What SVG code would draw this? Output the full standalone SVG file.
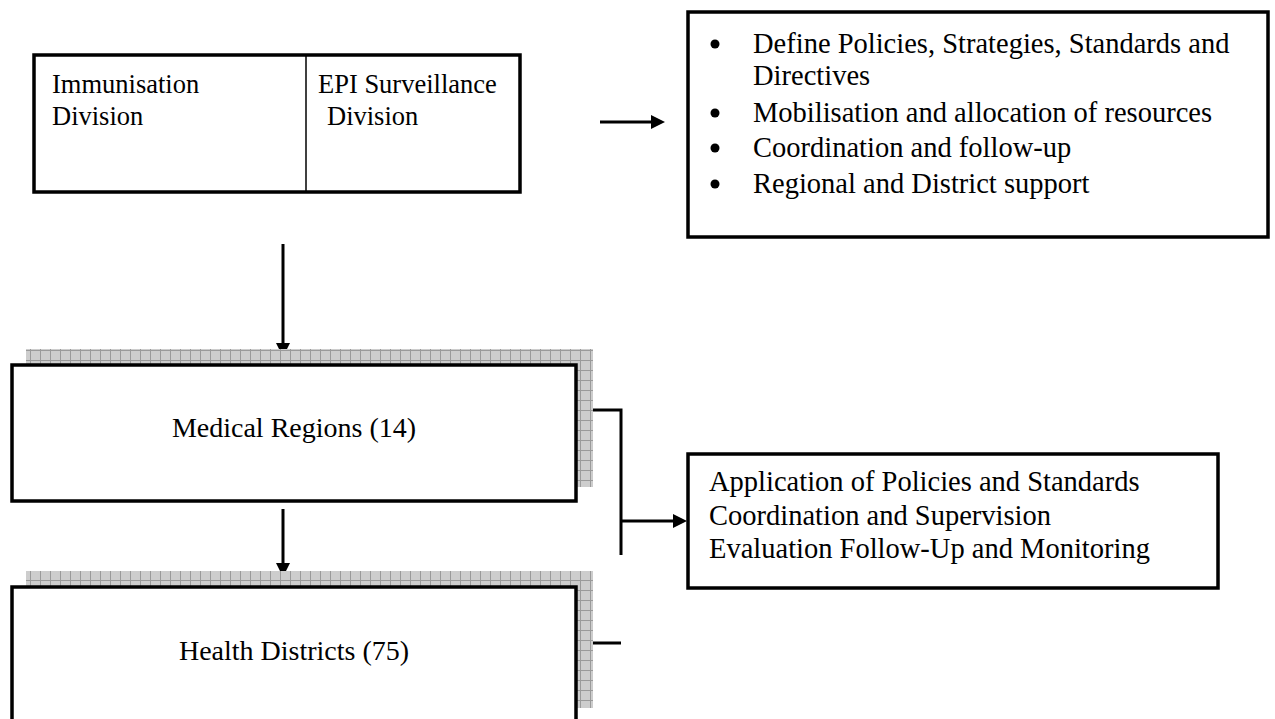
<svg xmlns="http://www.w3.org/2000/svg" width="1275" height="719" viewBox="0 0 1275 719">
<defs>
<pattern id="grid" width="10" height="10" patternUnits="userSpaceOnUse">
<rect width="10" height="10" fill="#cdcdcd"/>
<path d="M0 0.5H10M0.5 0V10" stroke="#9a9a9a" stroke-width="1"/>
</pattern>
</defs>
<style>
.box{fill:#fff;stroke:#000;stroke-width:3.5}
.shadow{fill:url(#grid)}
.t{font-family:"Liberation Serif","Times New Roman",serif;font-size:28px;fill:#000}
.r{font-size:28.5px}
.d{font-size:26.5px}
.line{stroke:#000;stroke-width:3;fill:none}
.head{fill:#000}
</style>
<rect width="1275" height="719" fill="#fff"/>

<g id="connectors">
<line class="line" x1="600" y1="122" x2="652" y2="122"/>
<polygon class="head" points="651,115 665,122 651,129"/>
<line class="line" x1="283" y1="244" x2="283" y2="344"/>
<polygon class="head" points="276,343 283,357 290,343"/>
<line class="line" x1="283" y1="509" x2="283" y2="564"/>
<polygon class="head" points="276,563 283,577 290,563"/>
<polyline class="line" points="576,410 621,410 621,555"/>
<line class="line" x1="621" y1="521" x2="674" y2="521"/>
<polygon class="head" points="673,514 687,521 673,528"/>
<line class="line" x1="576" y1="643" x2="621" y2="643"/>
</g>

<g id="divisions">
<rect class="box" x="34" y="55" width="486" height="137"/>
<line x1="306" y1="55" x2="306" y2="192" stroke="#000" stroke-width="1.5"/>
<text class="t d" x="52" y="93">Immunisation</text>
<text class="t d" x="52" y="125">Division</text>
<text class="t d" x="318" y="93">EPI Surveillance</text>
<text class="t d" x="327" y="125">Division</text>
</g>

<g id="central-roles">
<rect class="box" x="688" y="12" width="580" height="225"/>
<circle cx="715" cy="44" r="4.5"/>
<text class="t r" x="753" y="53">Define Policies, Strategies, Standards and</text>
<text class="t r" x="753" y="85">Directives</text>
<circle cx="715" cy="113" r="4.5"/>
<text class="t r" x="753" y="122">Mobilisation and allocation of resources</text>
<circle cx="715" cy="148" r="4.5"/>
<text class="t r" x="753" y="157">Coordination and follow-up</text>
<circle cx="715" cy="184" r="4.5"/>
<text class="t r" x="753" y="193">Regional and District support</text>
</g>

<g id="medical-regions">
<rect class="shadow" x="26" y="349" width="567" height="138"/>
<rect class="box" x="12" y="365" width="564" height="136"/>
<text class="t" x="294" y="437" text-anchor="middle">Medical Regions (14)</text>
</g>

<g id="health-districts">
<rect class="shadow" x="26" y="571" width="567" height="137"/>
<rect class="box" x="12" y="587" width="564" height="136"/>
<text class="t" x="294" y="660" text-anchor="middle">Health Districts (75)</text>
</g>

<g id="regional-roles">
<rect class="box" x="688" y="454" width="530" height="134"/>
<text class="t r" x="709" y="491">Application of Policies and Standards</text>
<text class="t r" x="709" y="525">Coordination and Supervision</text>
<text class="t r" x="709" y="558">Evaluation Follow-Up and Monitoring</text>
</g>
</svg>
